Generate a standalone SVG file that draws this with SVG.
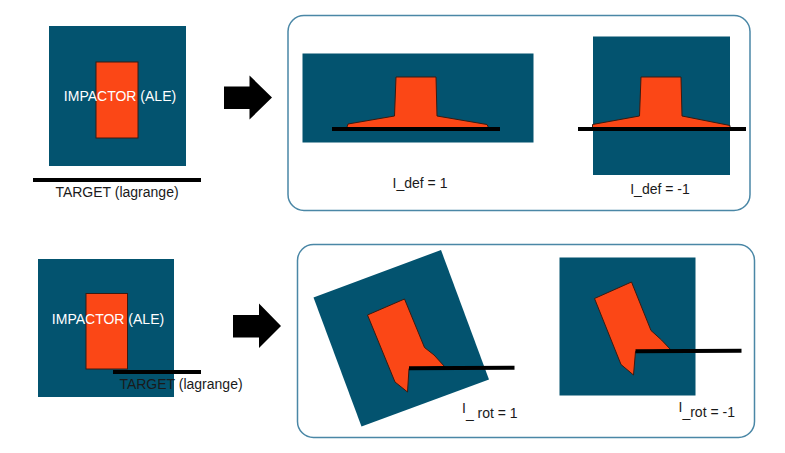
<svg xmlns="http://www.w3.org/2000/svg" width="785" height="453" viewBox="0 0 785 453">
<style>
.bg{fill:#03536f}
.imp{fill:#fb4716;stroke:#3a1a10;stroke-width:1}
.tgt{stroke:#000;stroke-width:4;fill:none}
.panel{fill:#fff;stroke:#4a87a6;stroke-width:1.5}
.arrow{fill:#000}
text{font-family:"Liberation Sans",Arial,sans-serif;font-size:14px}
.w{fill:#fff}
.k{fill:#1a1a1a}
</style>
<rect width="785" height="453" fill="#fff"/>
<g id="panels">
<rect class="panel" x="288" y="15.5" width="462" height="195" rx="16"/>
<rect class="panel" x="297.5" y="244.5" width="457" height="193" rx="16"/>
</g>
<g id="initial-def">
<rect class="bg" x="49" y="26" width="137" height="140"/>
<rect class="imp" x="96" y="62" width="42" height="76"/>
<text class="w" x="120" y="101" text-anchor="middle">IMPACTOR (ALE)</text>
<line class="tgt" x1="33" y1="180" x2="201" y2="180"/>
<text class="k" x="117" y="197" text-anchor="middle">TARGET (lagrange)</text>
</g>
<g id="idef1">
<rect class="bg" x="302.5" y="53.5" width="231" height="89"/>
<polygon class="imp" points="396,77 436,77 437,116 487,124.5 489,128.5 346.5,128.5 348,124 394.5,116"/>
<line class="tgt" x1="332" y1="129" x2="500" y2="129"/>
<text class="k" x="420" y="188" text-anchor="middle">I_def = 1</text>
</g>
<g id="idef-1">
<rect class="bg" x="593" y="36.5" width="137" height="138.5"/>
<polygon class="imp" points="641,77 681,77 682,116 730,125.5 730,128.5 592.5,128.5 592.5,124.5 639.5,116"/>
<line class="tgt" x1="578" y1="129" x2="746" y2="129"/>
<text class="k" x="660" y="193.5" text-anchor="middle">I_def = -1</text>
</g>
<g id="initial-rot">
<rect class="bg" x="38" y="259" width="136" height="138"/>
<rect class="imp" x="86" y="293.5" width="41.5" height="75.5"/>
<text class="w" x="108" y="324" text-anchor="middle">IMPACTOR (ALE)</text>
<line class="tgt" x1="113" y1="372" x2="201" y2="372"/>
<text class="k" x="181" y="389" text-anchor="middle">TARGET (lagrange)</text>
</g>
<g id="irot1">
<polygon class="bg" points="313.5,297.5 441,250 489,379.5 361.5,426.5"/>
<polygon class="imp" points="367.5,315 404.5,299 424.5,347.5 434,355 444.5,366.5 409,368.5 407.5,392 395,382"/>
<line class="tgt" x1="409" y1="368.3" x2="514.5" y2="367.8"/>
<text class="k" x="462" y="418"><tspan dy="-5">I</tspan><tspan dy="5">_ rot = 1</tspan></text>
</g>
<g id="irot-1">
<rect class="bg" x="559.5" y="257.5" width="136" height="138"/>
<polygon class="imp" points="594.5,298.5 631.5,282 651,330.5 661.5,340 670.5,349.5 635.5,351.5 633.5,375 621,364.5"/>
<line class="tgt" x1="635.5" y1="351.3" x2="741.5" y2="350.8"/>
<text class="k" x="678.5" y="417"><tspan dy="-5">I</tspan><tspan dy="5">_rot = -1</tspan></text>
</g>
<g id="connectors">
<polygon class="arrow" points="224,86.5 249.5,86.5 249.5,75.5 272,97.5 249.5,119.5 249.5,109 224,109"/>
<polygon class="arrow" points="233,315 259,315 259,303.5 281,326 259,348 259,337.5 233,337.5"/>
</g>
</svg>
